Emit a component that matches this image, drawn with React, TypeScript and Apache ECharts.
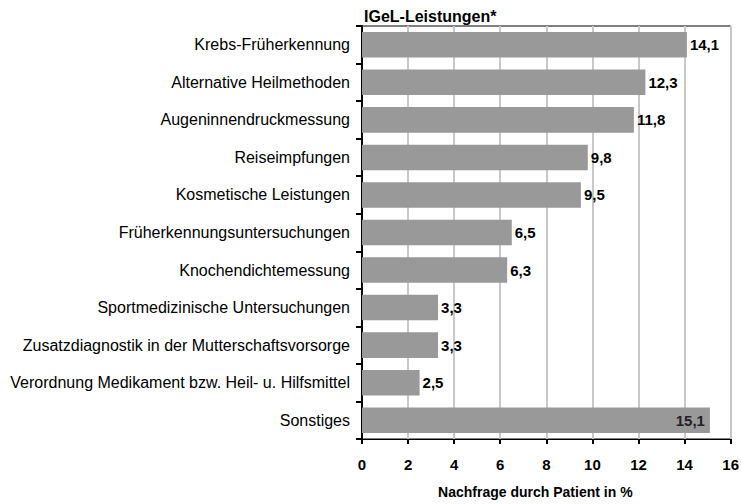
import React, { useEffect, useRef } from "react";
import * as echarts from "echarts";

const categories = [
  "Krebs-Früherkennung",
  "Alternative Heilmethoden",
  "Augeninnendruckmessung",
  "Reiseimpfungen",
  "Kosmetische Leistungen",
  "Früherkennungsuntersuchungen",
  "Knochendichtemessung",
  "Sportmedizinische Untersuchungen",
  "Zusatzdiagnostik in der Mutterschaftsvorsorge",
  "Verordnung Medikament bzw. Heil- u. Hilfsmittel",
  "Sonstiges",
];
const values = [14.1, 12.3, 11.8, 9.8, 9.5, 6.5, 6.3, 3.3, 3.3, 2.5, 15.1];
const insideLabel = [false, false, false, false, false, false, false, false, false, false, true];
const titleText = "IGeL-Leistungen*";
const xName = "Nachfrage durch Patient in %";

const FONT = "Liberation Sans, Arial, sans-serif";

export default function App() {
  const ref = useRef<HTMLDivElement>(null);
  useEffect(() => {
    if (!ref.current) return;
    const chart = echarts.init(ref.current, undefined, { renderer: "svg" });
    chart.setOption({
      animation: false,
      textStyle: { fontFamily: FONT },
      title: {
        text: titleText,
        left: 359,
        top: 3,
        textStyle: { fontFamily: FONT, fontSize: 16, fontWeight: "bold", color: "#000" },
      },
      grid: {
        left: 362,
        right: 10,
        top: 26,
        bottom: 60,
        show: true,
        borderColor: "#000",
        borderWidth: 1,
        backgroundColor: "transparent",
      },
      xAxis: {
        type: "value",
        min: 0,
        max: 16,
        interval: 2,
        name: xName,
        nameLocation: "middle",
        nameGap: 46,
        nameTextStyle: {
          fontFamily: FONT,
          fontSize: 14,
          fontWeight: "bold",
          color: "#000",
          padding: [0, 22, 0, 0],
        },
        axisLine: { show: true, lineStyle: { color: "#000", width: 1 } },
        axisTick: { show: true, length: 5, lineStyle: { color: "#000", width: 2 } },
        axisLabel: { fontFamily: FONT, fontSize: 15, fontWeight: "bold", color: "#000", margin: 18 },
        splitLine: { show: true, lineStyle: { color: "#c8c8c8", width: 2 } },
      },
      yAxis: {
        type: "category",
        data: categories,
        inverse: true,
        axisLine: { show: true, lineStyle: { color: "#000", width: 2 } },
        axisTick: { show: true, length: 6, lineStyle: { color: "#000", width: 2 } },
        axisLabel: { fontFamily: FONT, fontSize: 16, color: "#000", margin: 12 },
        splitLine: { show: false },
      },
      series: [
        {
          type: "bar",
          barCategoryGap: "32%",
          itemStyle: { color: "#999999" },
          data: values.map((v, i) => ({
            value: v,
            label: insideLabel[i]
              ? { position: "insideRight", distance: 5, color: "#222" }
              : { position: "right", distance: 3, color: "#000" },
          })),
          label: {
            show: true,
            fontFamily: FONT,
            fontSize: 15,
            fontWeight: "bold",
            formatter: (p: any) => String(p.value).replace(".", ","),
          },
        },
      ],
    });
    return () => chart.dispose();
  }, []);
  return <div ref={ref} style={{ width: 742, height: 504, position: "absolute", left: 0, top: 0 }} />;
}
